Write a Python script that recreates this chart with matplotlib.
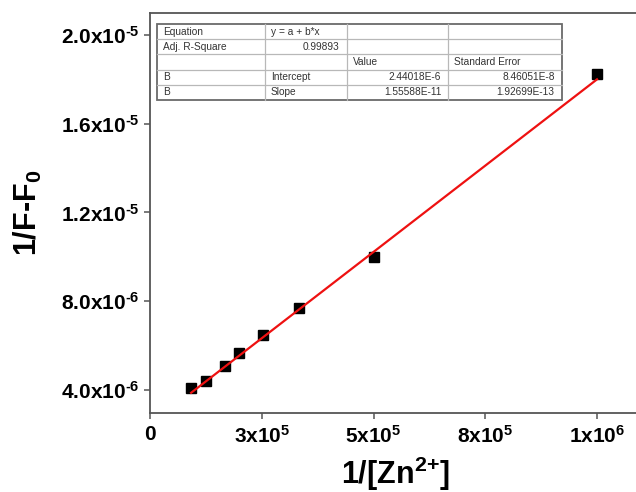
import matplotlib
matplotlib.use("Agg")
import matplotlib.pyplot as plt
from matplotlib.lines import Line2D
from matplotlib.patches import Rectangle

plt.rcParams['font.family'] = ['Liberation Sans', 'DejaVu Sans']
plt.rcParams['mathtext.fontset'] = 'custom'
plt.rcParams['mathtext.rm'] = 'Liberation Sans:bold'
plt.rcParams['mathtext.bf'] = 'Liberation Sans:bold'
plt.rcParams['mathtext.it'] = 'Liberation Sans:bold'

# Double-reciprocal (Benesi-Hildebrand type) data
inv_zn = [9.2e4, 1.26e5, 1.67e5, 2.0e5, 2.52e5, 3.34e5, 5.0e5, 1.0e6]
inv_dF = [4.10e-6, 4.41e-6, 5.10e-6, 5.65e-6, 6.48e-6, 7.71e-6, 10.01e-6, 18.22e-6]

# Linear fit results
intercept = 2.44018e-6
slope = 1.55588e-11
adj_r2 = 0.99893
intercept_err = 8.46051e-8
slope_err = 1.92699e-13

x_ticks = [0, 2.5e5, 5e5, 7.5e5, 1e6]
x_ticklabels = ['0', r'$\mathrm{3x10}^{\text{5}}$', r'$\mathrm{5x10}^{\text{5}}$',
                r'$\mathrm{8x10}^{\text{5}}$', r'$\mathrm{1x10}^{\text{6}}$']
y_ticks = [4e-6, 8e-6, 1.2e-5, 1.6e-5, 2.0e-5]
y_ticklabels = [r'$\mathrm{4.0x10}^{\text{-6}}$', r'$\mathrm{8.0x10}^{\text{-6}}$',
                r'$\mathrm{1.2x10}^{\text{-5}}$', r'$\mathrm{1.6x10}^{\text{-5}}$',
                r'$\mathrm{2.0x10}^{\text{-5}}$']


def sci(v):
    return f'{v:.5E}'.replace('E-0', 'E-')


table_rows = [
    ['Equation', 'y = a + b*x', '', ''],
    ['Adj. R-Square', f'{adj_r2:.5f}', '', ''],
    ['', '', 'Value', 'Standard Error'],
    ['B', 'Intercept', sci(intercept), sci(intercept_err)],
    ['B', 'Slope', sci(slope), sci(slope_err)],
]
table_align = [
    ['left', 'left', 'left', 'left'],
    ['left', 'right', 'left', 'left'],
    ['left', 'left', 'left', 'left'],
    ['left', 'left', 'right', 'right'],
    ['left', 'left', 'right', 'right'],
]

W, H = 636, 492
fig = plt.figure(figsize=(W / 100, H / 100), dpi=100)
ax_l, ax_b, ax_r, ax_t = 150, 413, 641.7, 13
ax = fig.add_axes([ax_l / W, (H - ax_b) / H, (ax_r - ax_l) / W, (ax_b - ax_t) / H])

ax.set_xlim(0, 1.1e6)
ax.set_ylim(2.96e-6, 2.099e-5)

ax.plot(inv_zn, inv_dF, 's', color='black', markersize=7.5, zorder=3)
x_fit = [min(inv_zn), max(inv_zn)]
y_fit = [intercept + slope * v for v in x_fit]
ax.plot(x_fit, y_fit, '-', color='#ee1111', lw=1.6, zorder=4)

spine_color = '#555555'
for side in ['left', 'bottom', 'top']:
    ax.spines[side].set_color(spine_color)
    ax.spines[side].set_linewidth(1.3)
ax.spines['right'].set_visible(False)

ax.set_xticks(x_ticks)
ax.set_xticklabels(x_ticklabels)
ax.set_yticks(y_ticks)
ax.set_yticklabels(y_ticklabels)
ax.tick_params(axis='both', direction='out', length=4.5, width=1.1, color=spine_color,
               labelsize=15, pad=3)
ax.tick_params(axis='x', pad=4)
for lab in ax.get_xticklabels() + ax.get_yticklabels():
    lab.set_fontweight('bold')

ax.set_xlabel(r'$\mathrm{1/[Zn}^{\text{2+}}\mathrm{]}$', fontsize=22, labelpad=6)
ax.set_ylabel(r'1/F-F$_{\text{0}}$', fontsize=22, fontweight='bold', labelpad=12)

# Fit-result table drawn in pixel-based axes fractions
def fx(px):
    return (px - ax_l) / (ax_r - ax_l)

def fy(py):
    return (ax_b - py) / (ax_b - ax_t)

col_edges = [157.3, 265, 346.7, 448.3, 561.7]
row_edges = [24, 39.2, 54.4, 69.6, 84.8, 100]
grid_color = '#b8b8b8'
for xe in col_edges[1:-1]:
    ax.add_line(Line2D([fx(xe), fx(xe)], [fy(row_edges[0]), fy(row_edges[-1])],
                       transform=ax.transAxes, color=grid_color, lw=0.9, zorder=5))
for ye in row_edges[1:-1]:
    ax.add_line(Line2D([fx(col_edges[0]), fx(col_edges[-1])], [fy(ye), fy(ye)],
                       transform=ax.transAxes, color=grid_color, lw=0.9, zorder=5))
ax.add_patch(Rectangle((fx(col_edges[0]), fy(row_edges[-1])),
                       fx(col_edges[-1]) - fx(col_edges[0]),
                       fy(row_edges[0]) - fy(row_edges[-1]),
                       transform=ax.transAxes, facecolor='white', edgecolor='#6a6a6a',
                       lw=1.3, zorder=4.5))
for i, row in enumerate(table_rows):
    yc = (row_edges[i] + row_edges[i + 1]) / 2
    for j, txt in enumerate(row):
        if not txt:
            continue
        al = table_align[i][j]
        xp = col_edges[j] + 6 if al == 'left' else col_edges[j + 1] - 7
        ax.text(fx(xp), fy(yc), txt, transform=ax.transAxes, ha=al, va='center',
                fontsize=7.3, color='#333333', zorder=6)

fig.savefig('out.png', dpi=100)
